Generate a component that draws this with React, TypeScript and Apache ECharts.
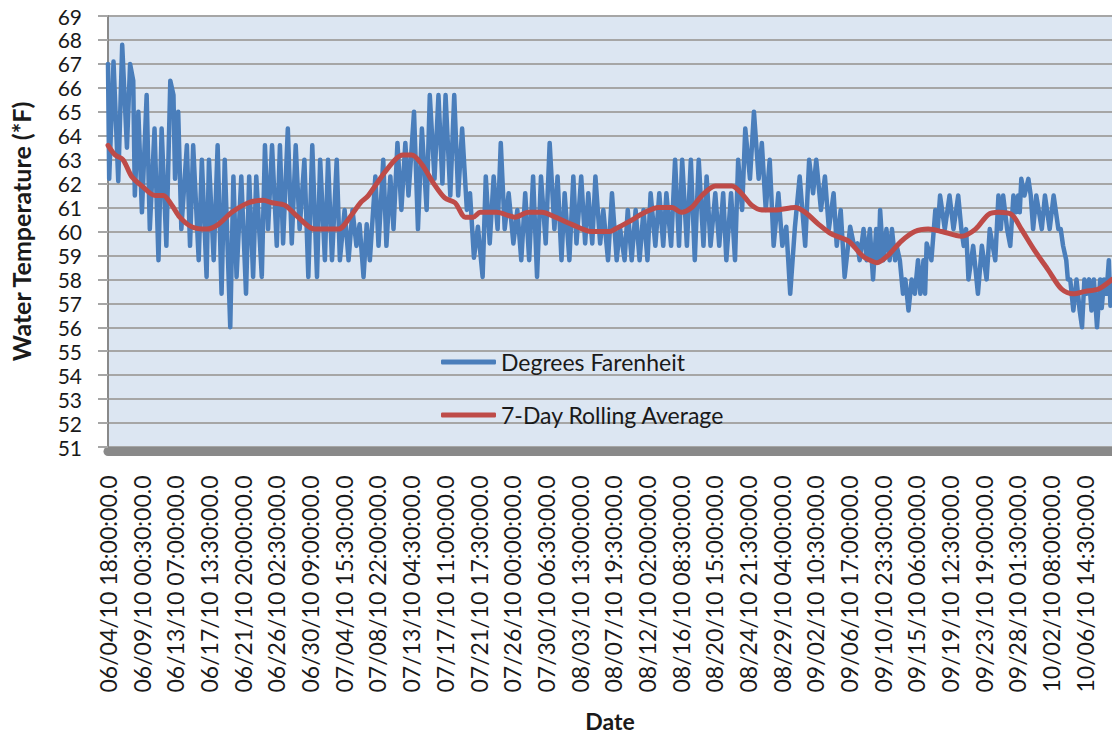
import React, { useEffect, useRef } from "react";
import * as echarts from "echarts";

// Tick labels on the date axis (one every 205 half-hour readings)
const xTickLabels = [
  "06/04/10 18:00:00.0", "06/09/10 00:30:00.0", "06/13/10 07:00:00.0", "06/17/10 13:30:00.0",
  "06/21/10 20:00:00.0", "06/26/10 02:30:00.0", "06/30/10 09:00:00.0", "07/04/10 15:30:00.0",
  "07/08/10 22:00:00.0", "07/13/10 04:30:00.0", "07/17/10 11:00:00.0", "07/21/10 17:30:00.0",
  "07/26/10 00:00:00.0", "07/30/10 06:30:00.0", "08/03/10 13:00:00.0", "08/07/10 19:30:00.0",
  "08/12/10 02:00:00.0", "08/16/10 08:30:00.0", "08/20/10 15:00:00.0", "08/24/10 21:30:00.0",
  "08/29/10 04:00:00.0", "09/02/10 10:30:00.0", "09/06/10 17:00:00.0", "09/10/10 23:30:00.0",
  "09/15/10 06:00:00.0", "09/19/10 12:30:00.0", "09/23/10 19:00:00.0", "09/28/10 01:30:00.0",
  "10/02/10 08:00:00.0", "10/06/10 14:30:00.0",
];
const tickStepDays = 205 / 48; // 205 readings of 30 minutes
const lastDay = 127.3;

// Degrees Farenheit (days since 06/04/10 18:00, temperature)
const blueDays = [
  0.0, 0.15, 0.7, 1.3, 1.8, 2.4, 2.8, 3.2, 3.4, 3.85, 4.3, 4.9, 5.3, 5.9, 6.4, 6.8, 7.4, 7.9, 8.3, 8.5,
  8.9, 9.3, 10.0, 10.4, 10.8, 11.5, 11.9, 12.5, 12.8, 13.4, 13.9, 14.4, 14.8, 15.5, 15.9, 16.3, 16.9, 17.5, 17.9, 18.4,
  18.8, 19.5, 19.9, 20.3, 20.8, 21.4, 21.8, 22.2, 22.8, 23.3, 23.8, 24.3, 24.9, 25.4, 25.9, 26.5, 26.9, 27.5, 27.9, 28.4,
  29.0, 29.4, 30.0, 30.5, 31.0, 31.5, 31.9,
  32.4, 32.8, 33.2, 33.9, 34.3, 34.9, 35.3, 35.8, 36.2, 36.7, 37.2, 37.7, 38.1, 38.8, 39.3, 39.8, 40.4, 40.8, 41.4, 41.9,
  42.4, 42.8, 43.4, 43.9, 44.4, 44.9, 45.5, 45.9, 46.4, 46.9, 47.5, 47.9, 48.4, 48.9, 49.4, 49.8, 50.3, 50.8, 51.4, 51.9,
  52.4, 52.9, 53.4, 53.9, 54.4, 54.9, 55.5, 56.0, 56.6, 57.0, 57.5, 57.9, 58.5, 59.0, 59.4, 60.0, 60.5, 60.9, 61.4, 61.8,
  62.4, 62.8, 63.4,
  63.9, 64.5, 64.9, 65.5, 65.9, 66.4, 66.9, 67.4, 67.9, 68.4, 68.8, 69.4, 69.9, 70.4, 70.8, 71.4, 71.9, 72.4, 72.8, 73.4,
  73.9, 74.4, 74.9, 75.5, 75.9, 76.4, 77.0, 77.5, 78.0, 78.4, 79.0, 79.5, 79.9, 80.4, 80.8, 81.4, 81.9, 82.5, 82.9, 83.4,
  83.9, 84.4, 85.0, 85.5, 86.0, 86.5, 87.1, 87.7, 88.4, 88.9, 89.4, 89.8, 90.4, 90.9, 91.4, 92.0, 92.4, 92.9, 93.4, 94.1,
  94.6, 95.0,
  95.3, 95.8, 96.2, 96.6, 97.0, 97.4, 97.7, 97.9, 98.3, 98.7, 99.1, 99.4, 99.8, 100.0, 100.4, 100.8, 101.1, 101.5, 101.9, 102.3,
  102.7, 103.0, 103.4, 103.6, 103.8, 104.4, 104.9, 105.2, 105.5, 106.1, 106.7, 107.2, 107.8, 108.2, 108.5, 108.8, 109.1, 109.7, 110.3, 110.8,
  111.4, 111.8, 112.5, 112.9, 113.2, 113.5, 114.0, 114.4, 114.8, 115.1, 115.4, 115.6, 115.8, 116.2, 116.7, 117.0, 117.3, 117.7, 118.4, 118.8,
  119.4, 119.9, 120.5, 120.8, 121.1, 121.5, 121.7, 122.0, 122.4, 122.8, 123.2, 123.5, 123.8, 124.1, 124.4, 124.7, 125.0, 125.4, 125.8, 126.0,
  126.3, 126.6, 126.9, 127.1, 127.3,
];
const blueTemps = [
  67.0, 62.2, 67.1, 62.1, 67.8, 63.5, 67.0, 66.3, 61.5, 65.0, 60.8, 65.7, 60.1, 64.3, 58.8, 64.3, 59.4, 66.3, 65.7, 62.2,
  65.0, 60.1, 63.6, 59.4, 63.6, 58.8, 63.0, 58.1, 63.0, 58.8, 63.6, 57.4, 63.0, 56.0, 62.3, 58.1, 62.3, 57.4, 62.3, 58.1,
  62.3, 58.1, 63.6, 60.1, 63.6, 59.4, 63.6, 59.5, 64.3, 59.5, 63.6, 60.1, 63.0, 58.1, 63.6, 58.1, 63.0, 58.8, 63.0, 58.8,
  63.0, 58.8, 60.9, 58.8, 60.9, 59.4, 60.3,
  58.1, 60.3, 58.8, 62.3, 59.4, 63.0, 59.4, 62.3, 60.1, 63.7, 60.9, 63.7, 61.5, 65.0, 60.1, 64.3, 60.9, 65.7, 62.2, 65.7,
  62.0, 65.7, 61.5, 65.7, 61.5, 64.3, 60.9, 61.6, 58.9, 60.2, 58.1, 62.3, 59.5, 62.3, 60.1, 63.7, 60.1, 61.6, 59.5, 60.9,
  58.8, 61.6, 58.8, 62.3, 58.1, 62.3, 59.5, 63.7, 60.1, 62.3, 58.8, 61.6, 58.8, 62.3, 59.5, 62.3, 59.5, 61.6, 59.5, 62.3,
  59.5, 60.9, 58.8,
  61.6, 58.8, 60.2, 58.8, 60.9, 58.8, 60.9, 58.8, 60.9, 58.8, 61.6, 59.4, 61.6, 59.4, 61.6, 59.4, 63.0, 59.4, 63.0, 59.4,
  63.0, 58.8, 63.0, 59.4, 62.3, 59.4, 61.6, 59.4, 61.6, 58.8, 61.6, 58.8, 63.0, 60.9, 64.3, 62.2, 65.0, 62.2, 63.7, 60.9,
  63.0, 59.4, 61.6, 59.4, 60.2, 57.4, 60.2, 62.3, 59.4, 63.0, 61.6, 63.0, 60.9, 62.3, 60.1, 61.6, 59.4, 60.9, 58.1, 60.2,
  59.4, 59.5,
  58.8, 60.1, 58.8, 60.1, 58.0, 60.1, 58.8, 60.9, 58.8, 60.1, 58.8, 60.1, 58.8, 59.4, 58.8, 57.4, 58.0, 56.7, 58.0, 57.4,
  58.8, 57.4, 58.8, 57.4, 59.5, 58.8, 60.9, 60.1, 61.5, 60.1, 61.5, 60.1, 61.5, 60.1, 59.4, 60.1, 58.0, 59.4, 57.4, 59.4,
  58.0, 60.1, 58.8, 61.5, 60.1, 61.5, 60.1, 59.4, 61.5, 60.8, 61.5, 60.8, 62.2, 61.5, 62.2, 61.5, 60.1, 61.5, 60.1, 61.5,
  60.1, 61.5, 60.1, 60.1, 59.4, 58.8, 58.0, 58.0, 56.7, 58.0, 56.7, 56.0, 58.0, 57.4, 58.0, 56.7, 58.0, 56.0, 58.0, 56.8,
  58.0, 57.4, 58.8, 56.9, 58.0,
];

// 7-Day Rolling Average
const redDays = [
  0.0, 0.9, 1.9, 3.0, 4.3, 6.0, 7.0, 8.1, 9.1, 10.6, 12.5, 14.0, 15.7, 17.8, 19.7, 20.8, 22.4, 24.1, 26.2, 29.2,
  30.9, 32.0, 33.0, 34.7, 36.4, 37.4, 38.5, 39.8, 41.3, 42.7, 44.0, 45.3, 46.3, 47.2, 49.3, 51.6, 53.3, 55.0, 56.7, 58.8,
  61.3, 63.6, 64.3, 66.0, 68.1, 69.8, 71.5, 72.7, 74.0, 75.3, 77.0, 79.1, 80.3, 81.6, 82.9, 84.6, 87.1, 88.4, 90.1, 91.7,
  93.9, 95.3, 96.0, 97.5, 98.9, 100.6, 102.3, 104.0, 105.7, 108.2, 110.0, 111.6, 112.9, 114.6, 115.8, 117.5, 119.2, 120.9, 122.4, 123.9,
  125.6, 127.3,
];
const redTemps = [
  63.6, 63.2, 63.0, 62.3, 61.9, 61.5, 61.5, 61.1, 60.6, 60.2, 60.1, 60.3, 60.8, 61.2, 61.3, 61.2, 61.1, 60.6, 60.1, 60.1,
  60.7, 61.2, 61.5, 62.3, 63.0, 63.2, 63.2, 62.8, 62.0, 61.4, 61.2, 60.6, 60.6, 60.8, 60.8, 60.6, 60.8, 60.8, 60.6, 60.3,
  60.0, 60.0, 60.1, 60.4, 60.8, 61.0, 61.0, 60.8, 61.0, 61.5, 61.9, 61.9, 61.6, 61.1, 60.9, 60.9, 61.0, 60.8, 60.3, 59.9,
  59.6, 59.1, 58.9, 58.7, 59.0, 59.6, 60.0, 60.1, 60.0, 59.8, 60.1, 60.7, 60.8, 60.7, 60.1, 59.2, 58.4, 57.6, 57.4, 57.5,
  57.6, 58.0,
];

const TEXT = "#1a1a1a";
const FONT = "Lato";

export default function App() {
  const ref = useRef<HTMLDivElement>(null);
  useEffect(() => {
    if (!ref.current) return;
    const chart = echarts.init(ref.current, undefined, { renderer: "svg" });
    const blueData = blueDays.map((d, i) => [d, blueTemps[i]]);
    const redData = redDays.map((d, i) => [d, redTemps[i]]);
    chart.setOption({
      animation: false,
      backgroundColor: "#ffffff",
      textStyle: { fontFamily: FONT },
      grid: {
        left: 107,
        right: 0,
        top: 16,
        bottom: 291,
        show: true,
        backgroundColor: "#dce6f2",
        borderWidth: 0,
      },
      legend: {
        orient: "vertical",
        left: 441,
        top: 350,
        padding: 0,
        itemWidth: 55,
        itemHeight: 5,
        itemGap: 29,
        icon: "roundRect",
        textStyle: { fontSize: 23, color: TEXT, lineHeight: 24, fontFamily: FONT },
        data: ["Degrees Farenheit", "7-Day Rolling Average"],
      },
      xAxis: {
        type: "value",
        min: 0,
        max: lastDay,
        interval: tickStepDays,
        offset: 4.5,
        axisLine: { show: true, lineStyle: { color: "#898989", width: 9 } },
        axisTick: { show: false },
        splitLine: { show: false },
        axisLabel: {
          rotate: 90,
          margin: 24,
          fontSize: 23,
          lineHeight: 24,
          color: TEXT,
          fontFamily: FONT,
          showMaxLabel: false,
          formatter: (v: number) => {
            const i = Math.round(v / tickStepDays);
            if (Math.abs(v - i * tickStepDays) > 0.01) return "";
            return xTickLabels[i] ?? "";
          },
        },
        name: "Date",
        nameLocation: "middle",
        nameGap: 258,
        nameTextStyle: { fontWeight: "bold", fontSize: 23, color: TEXT, fontFamily: FONT },
      },
      yAxis: {
        type: "value",
        min: 51,
        max: 69,
        interval: 1,
        axisLine: { show: true, lineStyle: { color: "#898989", width: 2 } },
        axisTick: { show: true, length: 10, lineStyle: { color: "#a6a6a6", width: 2 } },
        splitLine: { show: true, lineStyle: { color: "#a6a6a6", width: 2 } },
        axisLabel: { margin: 26, fontSize: 21, lineHeight: 20, color: TEXT, fontFamily: FONT },
        name: "Water Temperature (*F)",
        nameLocation: "middle",
        nameGap: 75,
        nameTextStyle: { fontWeight: "bold", fontSize: 25, color: TEXT, fontFamily: FONT },
      },
      series: [
        {
          name: "Degrees Farenheit",
          type: "line",
          data: blueData,
          showSymbol: false,
          symbol: "none",
          color: "#4a7ebb",
          lineStyle: { width: 4.5, color: "#4a7ebb", cap: "round", join: "round" },
          z: 2,
        },
        {
          name: "7-Day Rolling Average",
          type: "line",
          data: redData,
          showSymbol: false,
          symbol: "none",
          smooth: 0.3,
          color: "#be4b48",
          lineStyle: { width: 5, color: "#be4b48", cap: "round", join: "round" },
          z: 3,
        },
      ],
    });
    return () => chart.dispose();
  }, []);
  return (
    <div
      ref={ref}
      style={{ position: "fixed", left: 0, top: 0, width: 1112, height: 738 }}
    />
  );
}
